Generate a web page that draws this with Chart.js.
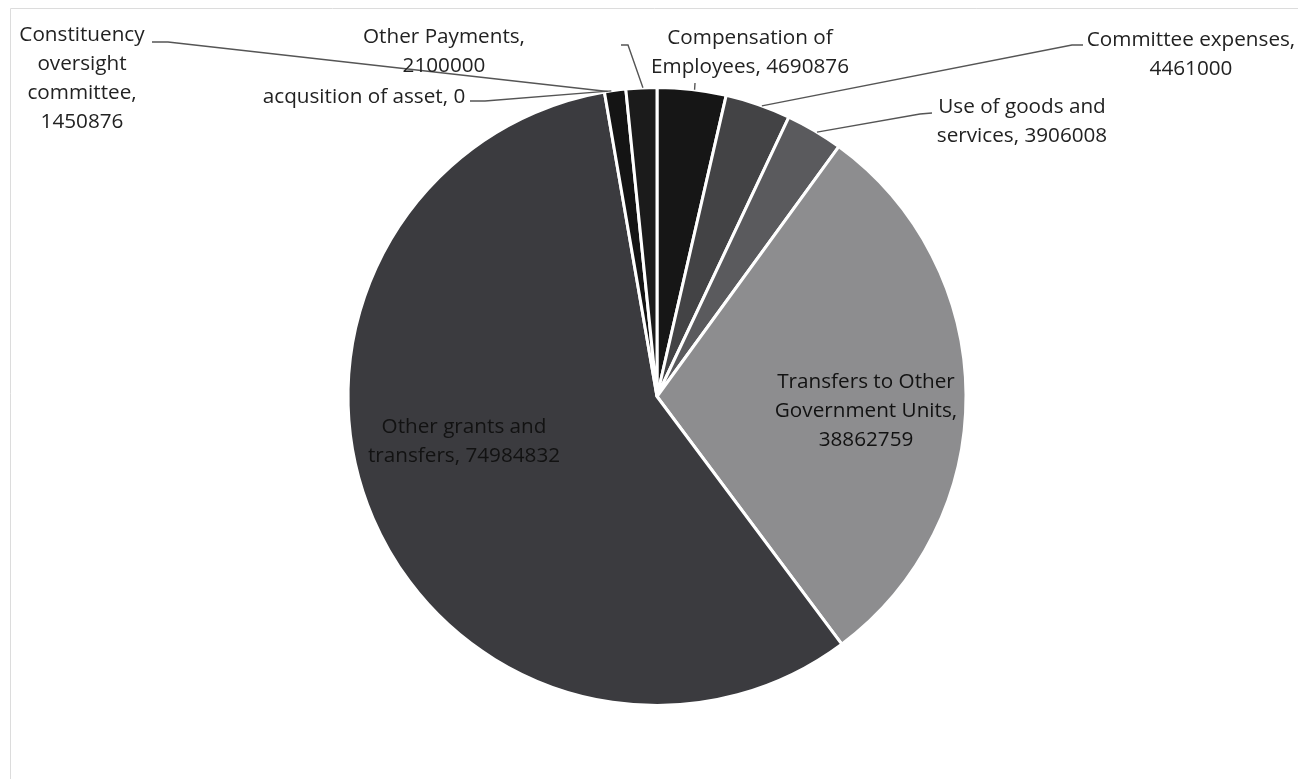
<!DOCTYPE html>
<html>
<head>
<meta charset="utf-8">
<script src="https://cdn.jsdelivr.net/npm/chart.js@4.4.1/dist/chart.umd.min.js"></script>
<style>
  html, body { margin: 0; padding: 0; background: #fff; }
  canvas { display: block; }
</style>
</head>
<body>
<canvas id="budget_pie" width="1298" height="779"></canvas>
<script>
// data, clockwise from 12 o'clock
var categories = ['Compensation of Employees', 'Committee expenses', 'Use of goods and services',
                  'Transfers to Other Government Units', 'Other grants and transfers',
                  'Constituency oversight committee', 'Other Payments', 'acqusition of asset'];
var amounts = [4690876, 4461000, 3906008, 38862759, 74984832, 1450876, 2100000, 0];
var slice_colors = ['#161616', '#434345', '#5a5a5d', '#8d8d8f', '#3b3b3f', '#141414', '#1b1b1b', '#222222'];

// label layout: words per line, centre x, first line y, leader points on the text side
var label_layout = [
  { words: [2, 2], x: 750, y: 38, leader: [[695, 83]], at: 0.54 },
  { words: [2, 1], x: 1191, y: 40, leader: [[1083, 45], [1072, 45]], at: 0.56 },
  { words: [4, 2], x: 1022, y: 107, leader: [[932, 113], [920, 114]], at: 0.55 },
  { words: [3, 2, 1], x: 866, y: 382, inside: true },
  { words: [3, 2], x: 464, y: 427, inside: true },
  { words: [1, 1, 1, 1], x: 82, y: 35, leader: [[152, 42], [168, 42]], at: 0.15 },
  { words: [2, 1], x: 444, y: 37, leader: [[621, 45], [628, 45]], at: 0.55 },
  { words: [4], x: 364, y: 97, leader: [[470, 101], [485, 101]], deg: 351.5 }
];
var line_height = 29;

function labelLines(i) {
  var parts = (categories[i] + ', ' + amounts[i]).split(' ');
  var out = [], k = 0;
  label_layout[i].words.forEach(function (n) {
    out.push(parts.slice(k, k + n).join(' '));
    k += n;
  });
  return out;
}

const pieLabels = {
  id: 'pieLabels',
  beforeDraw(chart) {
    // faint frame of the scanned chart box
    const ctx = chart.ctx;
    ctx.save();
    ctx.strokeStyle = '#dcdcdc';
    ctx.lineWidth = 1;
    ctx.beginPath();
    ctx.moveTo(10.5, 779);
    ctx.lineTo(10.5, 8.5);
    ctx.lineTo(1298, 8.5);
    ctx.stroke();
    ctx.restore();
  },
  afterDraw(chart) {
    const ctx = chart.ctx;
    const arcs = chart.getDatasetMeta(0).data;
    ctx.save();
    ctx.font = '20.7px "Open Sans"';
    ctx.textAlign = 'center';
    ctx.textBaseline = 'middle';
    label_layout.forEach(function (lay, i) {
      const arc = arcs[i];
      if (lay.leader) {
        const p = arc.getProps(['x', 'y', 'startAngle', 'endAngle', 'outerRadius'], true);
        let a;
        if (lay.deg !== undefined) a = -Math.PI / 2 + lay.deg * Math.PI / 180;
        else a = p.startAngle + lay.at * (p.endAngle - p.startAngle);
        const ex = p.x + Math.cos(a) * p.outerRadius;
        const ey = p.y + Math.sin(a) * p.outerRadius;
        ctx.strokeStyle = '#555555';
        ctx.lineWidth = 1.4;
        ctx.beginPath();
        ctx.moveTo(lay.leader[0][0], lay.leader[0][1]);
        for (let j = 1; j < lay.leader.length; j++) ctx.lineTo(lay.leader[j][0], lay.leader[j][1]);
        ctx.lineTo(ex, ey);
        ctx.stroke();
      }
      ctx.fillStyle = lay.inside ? '#121212' : '#222222';
      labelLines(i).forEach(function (t, k) {
        ctx.fillText(t, lay.x, lay.y + k * line_height);
      });
    });
    ctx.restore();
  }
};

const config = {
  type: 'pie',
  data: {
    labels: categories,
    datasets: [{
      data: amounts,
      backgroundColor: slice_colors,
      borderColor: '#ffffff',
      borderWidth: 3,
      hoverOffset: 0,
      offset: 0
    }]
  },
  options: {
    responsive: false,
    animation: false,
    layout: { padding: { top: 86, bottom: 72, left: 16, right: 0 } },
    plugins: {
      legend: { display: false },
      tooltip: { enabled: false }
    }
  },
  plugins: [pieLabels]
};

const myChart = new Chart(document.getElementById('budget_pie'), config);
</script>
</body>
</html>
